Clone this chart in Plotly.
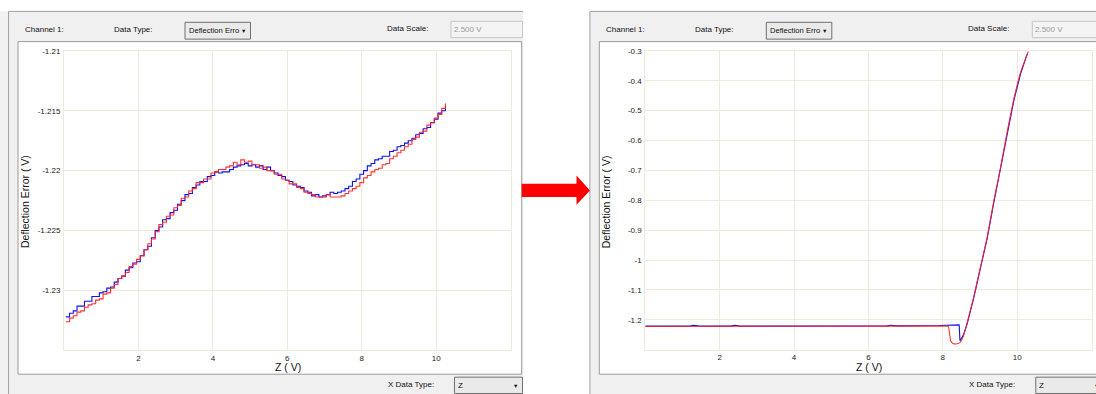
import plotly.graph_objects as go

W, H = 1096, 394

# ---------------- data: left panel (before) ----------------
z_left = [0.05, 0.15, 0.25, 0.35, 0.45, 0.55, 0.65, 0.75, 0.85, 0.95,
          1.05, 1.15, 1.25, 1.35, 1.45, 1.55, 1.65, 1.75, 1.85, 1.95,
          2.05, 2.15, 2.25, 2.35, 2.45, 2.55, 2.65, 2.75, 2.85, 2.95,
          3.05, 3.15, 3.25, 3.35, 3.45, 3.55, 3.65, 3.75, 3.85, 3.95,
          4.05, 4.15, 4.25, 4.35, 4.45, 4.55, 4.65, 4.75, 4.85, 4.95,
          5.05, 5.15, 5.25, 5.35, 5.45, 5.55, 5.65, 5.75, 5.85, 5.95,
          6.05, 6.15, 6.25, 6.35, 6.45, 6.55, 6.65, 6.75, 6.85, 6.95,
          7.05, 7.15, 7.25, 7.35, 7.45, 7.55, 7.65, 7.75, 7.85, 7.95,
          8.05, 8.15, 8.25, 8.35, 8.45, 8.55, 8.65, 8.75, 8.85, 8.95,
          9.05, 9.15, 9.25, 9.35, 9.45, 9.55, 9.65, 9.75, 9.85, 9.95,
          10.05, 10.15, 10.25]
blue_left = [-1.2322, -1.2319, -1.2317, -1.2313, -1.2313, -1.2309, -1.2309, -1.2305, -1.2305, -1.2302,
             -1.2301, -1.2298, -1.2297, -1.2293, -1.2290, -1.2288, -1.2283, -1.2281, -1.2277, -1.2276,
             -1.2271, -1.2266, -1.2263, -1.2256, -1.2250, -1.2247, -1.2241, -1.2240, -1.2235, -1.2233,
             -1.2228, -1.2225, -1.2220, -1.2219, -1.2214, -1.2212, -1.2209, -1.2209, -1.2205, -1.2204,
             -1.2201, -1.2202, -1.2201, -1.2201, -1.2199, -1.2197, -1.2196, -1.2195, -1.2194, -1.2196,
             -1.2195, -1.2197, -1.2196, -1.2199, -1.2197, -1.2200, -1.2202, -1.2204, -1.2205, -1.2208,
             -1.2209, -1.2212, -1.2213, -1.2214, -1.2217, -1.2218, -1.2221, -1.2220, -1.2222, -1.2221,
             -1.2220, -1.2218, -1.2219, -1.2218, -1.2217, -1.2215, -1.2213, -1.2209, -1.2207, -1.2203,
             -1.2200, -1.2196, -1.2194, -1.2191, -1.2190, -1.2188, -1.2188, -1.2184, -1.2183, -1.2180,
             -1.2179, -1.2177, -1.2175, -1.2173, -1.2170, -1.2169, -1.2165, -1.2164, -1.2160, -1.2157,
             -1.2152, -1.2150, -1.2146]
red_left = [-1.2326, -1.2323, -1.2321, -1.2318, -1.2317, -1.2314, -1.2312, -1.2311, -1.2308, -1.2307,
            -1.2303, -1.2302, -1.2298, -1.2295, -1.2290, -1.2288, -1.2285, -1.2280, -1.2278, -1.2274,
            -1.2271, -1.2266, -1.2261, -1.2257, -1.2251, -1.2245, -1.2243, -1.2238, -1.2237, -1.2231,
            -1.2229, -1.2223, -1.2222, -1.2217, -1.2215, -1.2210, -1.2210, -1.2207, -1.2207, -1.2202,
            -1.2201, -1.2199, -1.2199, -1.2197, -1.2196, -1.2193, -1.2195, -1.2191, -1.2193, -1.2192,
            -1.2195, -1.2195, -1.2198, -1.2197, -1.2200, -1.2200, -1.2203, -1.2203, -1.2207, -1.2208,
            -1.2211, -1.2211, -1.2214, -1.2215, -1.2218, -1.2219, -1.2220, -1.2222, -1.2222, -1.2222,
            -1.2220, -1.2222, -1.2222, -1.2222, -1.2221, -1.2219, -1.2217, -1.2215, -1.2213, -1.2210,
            -1.2206, -1.2204, -1.2201, -1.2199, -1.2198, -1.2195, -1.2194, -1.2190, -1.2188, -1.2185,
            -1.2183, -1.2180, -1.2178, -1.2174, -1.2172, -1.2168, -1.2167, -1.2162, -1.2160, -1.2156,
            -1.2153, -1.2148, -1.2144]

# ---------------- data: right panel (after) ----------------
z_right_blue = [0.0, 1.2, 1.3, 1.45, 2.3, 2.4, 2.55, 5.2, 5.3, 5.45, 6.5, 6.6, 6.75, 7.9,
                8.44, 8.46, 8.55, 8.65, 8.83, 9.01, 9.19, 9.37, 9.55, 9.73, 9.91, 10.09, 10.27]
blue_right = [-1.221, -1.221, -1.218, -1.221, -1.221, -1.218, -1.221, -1.221, -1.219, -1.221,
              -1.220, -1.218, -1.220, -1.219, -1.217, -1.270, -1.252, -1.215, -1.127, -1.028,
              -0.929, -0.808, -0.697, -0.577, -0.466, -0.377, -0.310]
z_right_red = [0.0, 8.1, 8.15, 8.18, 8.21, 8.27, 8.38, 8.46, 8.55, 8.65, 8.83, 9.01,
               9.19, 9.37, 9.55, 9.73, 9.91, 10.09, 10.30]
red_right = [-1.222, -1.221, -1.222, -1.245, -1.270, -1.279, -1.280, -1.276, -1.255, -1.212,
             -1.124, -1.024, -0.925, -0.803, -0.692, -0.571, -0.461, -0.372, -0.302]

x_ticks = [2, 4, 6, 8, 10]
y_ticks_left = [-1.21, -1.215, -1.22, -1.225, -1.23]
y_labels_left = ["-1.21", "-1.215", "-1.22", "-1.225", "-1.23"]
y_ticks_right = [-0.3, -0.4, -0.5, -0.6, -0.7, -0.8, -0.9, -1.0, -1.1, -1.2]
y_labels_right = ["-0.3", "-0.4", "-0.5", "-0.6", "-0.7", "-0.8", "-0.9", "-1", "-1.1", "-1.2"]

BLUE = "#1010F0"
RED = "#FF2020"
GRID = "#EEEBDC"
FONT = "Liberation Sans, Arial, sans-serif"

fig = go.Figure()
fig.add_trace(go.Scatter(x=z_left, y=blue_left, mode="lines", line=dict(color=BLUE, width=1.1, shape="hv"),
                         xaxis="x", yaxis="y", showlegend=False))
fig.add_trace(go.Scatter(x=z_left, y=red_left, mode="lines", line=dict(color=RED, width=1.1, shape="hv"),
                         xaxis="x", yaxis="y", showlegend=False, opacity=0.9))
fig.add_trace(go.Scatter(x=z_right_blue, y=blue_right, mode="lines", line=dict(color=BLUE, width=1.1),
                         xaxis="x2", yaxis="y2", showlegend=False))
fig.add_trace(go.Scatter(x=z_right_red, y=red_right, mode="lines",
                         line=dict(color=RED, width=1.1, shape="spline", smoothing=0.4),
                         xaxis="x2", yaxis="y2", showlegend=False, opacity=0.9))


def X(p):
    return p / W


def Y(p):
    return 1 - p / H


OFF = 581.3  # horizontal offset of the second panel
axis_common = dict(showgrid=True, gridcolor=GRID, gridwidth=1, showline=True, linecolor=GRID,
                   mirror=True, zeroline=False, ticks="",
                   tickfont=dict(size=8, color="#222", family=FONT))

fig.update_layout(
    width=W, height=H, margin=dict(l=0, r=0, t=0, b=0),
    paper_bgcolor="white", plot_bgcolor="white",
    xaxis=dict(domain=[X(64), X(510.6)], range=[0, 12], tickvals=x_ticks, anchor="y",
               ticklabelstandoff=0, **axis_common),
    yaxis=dict(domain=[Y(350), Y(47.3)], range=[-1.235, -1.21], tickvals=y_ticks_left,
               ticktext=y_labels_left, anchor="x", ticklabelstandoff=1, **axis_common),
    xaxis2=dict(domain=[X(64 + OFF), X(510.3 + OFF)], range=[0, 12], tickvals=x_ticks, anchor="y2",
                ticklabelstandoff=0, **axis_common),
    yaxis2=dict(domain=[Y(349.3), Y(47.3)], range=[-1.3, -0.3], tickvals=y_ticks_right,
                ticktext=y_labels_right, anchor="x2", ticklabelstandoff=1, **axis_common),
)

shapes = []
annots = []


def rect(x0, y0, x1, y1, fill, line=None, lw=1):
    shapes.append(dict(type="rect", xref="paper", yref="paper", x0=X(x0), x1=X(x1), y0=Y(y1), y1=Y(y0),
                       fillcolor=fill, line=dict(color=line or fill, width=lw if line else 0), layer="below"))


def hline(x0, x1, y, color, lw=1):
    shapes.append(dict(type="line", xref="paper", yref="paper", x0=X(x0), x1=X(x1), y0=Y(y), y1=Y(y),
                       line=dict(color=color, width=lw), layer="below"))


def vline(x, y0, y1, color, lw=1):
    shapes.append(dict(type="line", xref="paper", yref="paper", x0=X(x), x1=X(x), y0=Y(y0), y1=Y(y1),
                       line=dict(color=color, width=lw), layer="below"))


def text(x, y, s, size=8, color="#111", anchor="left", angle=0):
    annots.append(dict(xref="paper", yref="paper", x=X(x), y=Y(y), text=s, showarrow=False,
                       xanchor=anchor, yanchor="middle", textangle=angle, borderpad=0,
                       font=dict(size=size, color=color, family=FONT)))


def panel(o, right_edge):
    # grey window background
    rect(8.6 + o, 7.5, right_edge, H + 2, "#F0F0F0")
    hline(8.6 + o, right_edge, 7.5, "#A0A0A0")
    vline(8.6 + o, 7.5, H + 2, "#A0A0A0")
    # white graph box
    rect(18 + o, 38, 521.7 + o, 374, "white", "#9A9A9A", 1)
    # header
    text(24 + o, 25.5, "Channel 1:")
    text(112.5 + o, 25.5, "Data Type:")
    rect(185 + o, 18.5, 250.5 + o, 35.5, "#EAEAEA", "#707070", 1)
    text(187.5 + o, 27, "Deflection Erro", size=7.6)
    text(243.5 + o, 27, "▼", size=5.5, anchor="center")
    text(386 + o, 25, "Data Scale:")
    rect(451 + o, 17.5, 522.5 + o, 34, "#F4F4F4", "#C6C6C6", 1)
    text(453 + o, 25.5, "2.500 V", color="#9A9A9A")
    # footer
    text(387 + o, 384.5, "X Data Type:")
    rect(454.5 + o, 377, 522.5 + o, 393.5, "#EAEAEA", "#707070", 1)
    text(457 + o, 385, "Z")
    text(515 + o, 385.5, "▼", size=5.5, anchor="center")
    # axis titles
    text(25 + o, 200, "Deflection Error ( V)", size=10.5, color="#111", anchor="center", angle=-90)
    text(288 + o, 367, "Z ( V)", size=10.5, color="#111", anchor="center")


# left panel background left strip
rect(0, 7.5, 9, H + 2, "#F0F0F0")
panel(0, 523)
panel(OFF, W + 5)

# red arrow between the panels
ax0, ax1, tip = 521.7, 576.5, 590
path = (f"M {X(ax0)},{Y(181.7)} L {X(ax1)},{Y(181.7)} L {X(ax1)},{Y(173.3)} L {X(tip)},{Y(188.3)} "
        f"L {X(ax1)},{Y(202.7)} L {X(ax1)},{Y(195)} L {X(ax0)},{Y(195)} Z")
shapes.append(dict(type="path", xref="paper", yref="paper", path=path, fillcolor="#FF0000",
                   line=dict(width=0), layer="above"))

fig.update_layout(shapes=shapes, annotations=annots)
fig.write_html("out.html", config={"displayModeBar": False},
               post_script="document.body.style.margin='0';document.body.style.padding='0';"
                           "document.body.style.overflow='hidden';")
